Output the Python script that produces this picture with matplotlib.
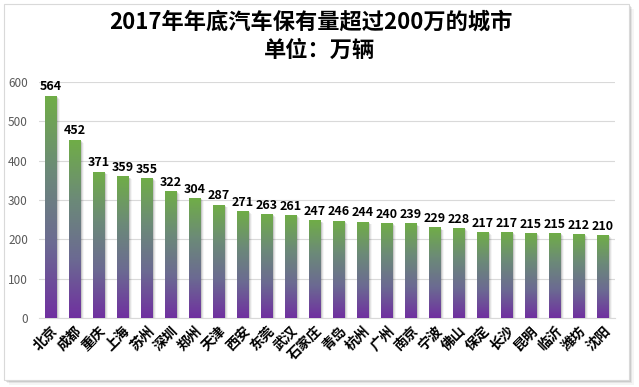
import matplotlib
matplotlib.use("Agg")
import matplotlib.pyplot as plt
import numpy as np
from matplotlib.colors import LinearSegmentedColormap
from matplotlib.patches import Rectangle

plt.rcParams['font.family'] = ['Noto Sans CJK SC', 'DejaVu Sans']

cities = ["北京", "成都", "重庆", "上海", "苏州", "深圳", "郑州", "天津", "西安", "东莞",
          "武汉", "石家庄", "青岛", "杭州", "广州", "南京", "宁波", "佛山", "保定", "长沙",
          "昆明", "临沂", "潍坊", "沈阳"]
values = [564, 452, 371, 359, 355, 322, 304, 287, 271, 263,
          261, 247, 246, 244, 240, 239, 229, 228, 217, 217,
          215, 215, 212, 210]
yticks = [0, 100, 200, 300, 400, 500, 600]

fig = plt.figure(figsize=(6.39, 3.87), dpi=100)
fig.patch.set_facecolor('white')

# frame with shadow
for i, a in enumerate([0.10, 0.07, 0.04]):
    off = (i + 1) * 1.5
    fig.patches.append(Rectangle(((4 + off) / 639, 1 - (380 + off) / 387), 625 / 639, 376 / 387,
                                 transform=fig.transFigure, facecolor=(0, 0, 0, a), edgecolor='none', zorder=0))
fig.patches.append(Rectangle((4 / 639, 1 - 380 / 387), 625 / 639, 376 / 387,
                             transform=fig.transFigure, facecolor='white', edgecolor='#D9D9D9', lw=0.8, zorder=1))

ax = fig.add_axes([39 / 639, 1 - 318 / 387, 576 / 639, 236 / 387])
ax.set_facecolor('none')
ax.set_zorder(2)

cmap = LinearSegmentedColormap.from_list('g', ['#7030A0', '#6B6A92', '#6C8A78', '#70AD47'])
grad = np.linspace(0, 1, 256).reshape(-1, 1)
x = np.arange(len(cities))
w = 0.5
for xi, v in zip(x, values):
    # soft shadow
    for k, a in enumerate([0.12, 0.07, 0.04]):
        ax.add_patch(Rectangle((xi - w / 2 + 0.04 + k * 0.04, 0), w, v - 2 - k * 2,
                               facecolor=(0, 0, 0, a), edgecolor='none', zorder=2))
    ax.imshow(grad, cmap=cmap, origin='lower', aspect='auto',
              extent=[xi - w / 2, xi + w / 2, 0, v], zorder=3, interpolation='bicubic')
    ax.text(xi, v + 7, str(v), ha='center', va='bottom', fontsize=9, fontweight='bold',
            color='black', zorder=4)

ax.set_xlim(-0.5, len(cities) - 0.5)
ax.set_ylim(0, 600)
ax.set_yticks(yticks)
ax.set_yticklabels([str(t) for t in yticks], fontsize=8.5, color='#595959')
ax.tick_params(axis='y', length=0, pad=8)
ax.set_xticks(x)
ax.set_xticklabels(cities, rotation=45, ha='right', rotation_mode='anchor',
                   fontsize=10, fontweight='bold', color='black')
ax.tick_params(axis='x', length=0, pad=4)
ax.grid(axis='y', color='#D9D9D9', lw=0.8, zorder=0)
ax.set_axisbelow(True)
for s in ['top', 'right', 'left']:
    ax.spines[s].set_visible(False)
ax.spines['bottom'].set_color('#D9D9D9')

fig.text(0.486, 1 - 22 / 387, "2017年年底汽车保有量超过200万的城市", ha='center', va='center',
         fontsize=16, fontweight='bold', color='black')
fig.text(0.50, 1 - 50 / 387, "单位：万辆", ha='center', va='center',
         fontsize=16, fontweight='bold', color='black')

fig.savefig('out.png', dpi=100)
